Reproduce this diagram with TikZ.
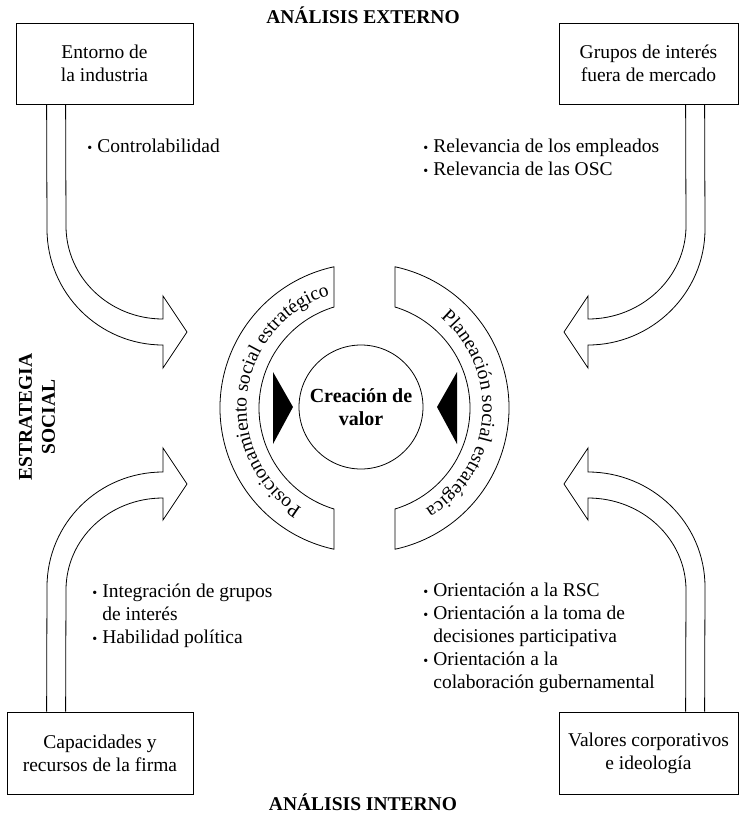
\documentclass[tikz,border=0pt]{standalone}
\usepackage{fontspec}
\setmainfont{Liberation Serif}
\usetikzlibrary{calc, decorations.text}

\newcommand{\itm}{\makebox[10pt][l]{\raisebox{0.8pt}{\scalebox{0.72}{\textbullet}}}}
\newcommand{\cont}{\hspace*{10pt}}
\newcommand{\bandfont}{\fontsize{19.5}{23}\selectfont}

\begin{document}
\begin{tikzpicture}[x=1pt, y=-1pt, line width=0.8pt]
        \tikzstyle{box} = [rectangle, draw=black, align=center, inner sep=0pt, font=\fontsize{19.5}{23}\selectfont]
        \tikzstyle{title} = [anchor=base, inner sep=0pt, font=\bfseries\fontsize{19.5}{23}\selectfont]
        \tikzstyle{list} = [anchor=north west, align=left, inner sep=0pt, font=\fontsize{19.5}{23}\selectfont]
        \tikzstyle{bigarrow} = [draw=black, line join=miter]
        \tikzstyle{band} = [draw=black]

        \useasboundingbox (0,0) rectangle (739,815);

        % titulos
        \node (ext) [title] at (363,23) {ANÁLISIS EXTERNO};
        \node (int) [title] at (363,810) {ANÁLISIS INTERNO};
        \node (estr) [title, anchor=center, rotate=90, align=center] at (37,417) {ESTRATEGIA\\SOCIAL};

        % cajas
        \node (ent) [box, minimum width=177pt, minimum height=81pt] at (104.5,63.5) {Entorno de\\la industria};
        \node (grp) [box, minimum width=179pt, minimum height=81pt] at (648.5,63.5) {Grupos de interés\\fuera de mercado};
        \node (cap) [box, minimum width=186pt, minimum height=82pt] at (100,753) {Capacidades y\\recursos de la firma};
        \node (val) [box, minimum width=179pt, minimum height=82pt] at (648.5,753) {Valores corporativos\\e ideología};

        % flechas
        \draw [bigarrow] ($(ent.south west)+(31,0)$) -- (47,229) .. controls (47,293) and (99,345) .. (163,345)
                -- (163,368) -- (187,332) -- (163,296) -- (163,319)
                .. controls (109,319) and (66,277) .. (66,226) -- ($(ent.south west)+(50,0)$);
        \draw [bigarrow] ($(grp.south west)+(146,0)$) -- (705,229) .. controls (705,293) and (652,345) .. (588,345)
                -- (588,368) -- (564,332) -- (588,296) -- (588,319)
                .. controls (642,319) and (686,277) .. (686,226) -- ($(grp.south west)+(127,0)$);
        \draw [bigarrow] ($(cap.north west)+(40,0)$) -- (47,587) .. controls (47,523) and (99,472) .. (163,472)
                -- (163,448) -- (187,484) -- (163,520) -- (163,498)
                .. controls (109,498) and (66,539) .. (66,590) -- ($(cap.north west)+(59,0)$);
        \draw [bigarrow] ($(val.north west)+(146,0)$) -- (705,587) .. controls (705,523) and (652,472) .. (588,472)
                -- (588,448) -- (564,484) -- (588,520) -- (588,498)
                .. controls (642,498) and (686,539) .. (686,590) -- ($(val.north west)+(127,0)$);

        % listas
        \node (ctrl) [list] at (87,136.4) {\strut\itm Controlabilidad};
        \node (relev) [list] at (423,136.4) {\strut\itm Relevancia de los empleados\\\itm Relevancia de las OSC};
        \node (integ) [list] at (92,581.4) {\strut\itm Integración de grupos\\\cont de interés\\\itm Habilidad política};
        \node (orient) [list] at (423,580.4) {\strut\itm Orientación a la RSC\\\itm Orientación a la toma de\\\cont decisiones participativa\\\itm Orientación a la\\\cont colaboración gubernamental};

        % centro
        \begin{scope}[shift={(364.5,408)}, y=1pt]
                \draw [band] (102.2:144.5) arc[start angle=102.2, end angle=257.8, radius=144.5]
                        -- (253.2:105.5) arc[start angle=253.2, end angle=106.8, radius=105.5] -- cycle;
                \draw [band] (77.8:144.5) arc[start angle=77.8, end angle=-77.8, radius=144.5]
                        -- (-73.2:105.5) arc[start angle=-73.2, end angle=73.2, radius=105.5] -- cycle;
                \path [decorate, decoration={text along path, text align=center,
                        text={|\bandfont|Posicionamiento social estratégico}}]
                        (245:118) arc[start angle=245, end angle=100, radius=118];
                \path [decorate, decoration={text along path, text align=center,
                        text={|\bandfont|Planeación social estratégica}}]
                        (70:118) arc[start angle=70, end angle=-79, radius=118];
        \end{scope}

        \node (valor) [circle, draw=black, minimum size=124pt, inner sep=0pt, align=center,
                font=\bfseries\fontsize{20}{23}\selectfont] at (361,407) {Creación de\\valor};
        \fill (273,372) -- (293,407) -- (273,444) -- cycle;
        \fill (457,372) -- (437,407) -- (457,444) -- cycle;
\end{tikzpicture}
\end{document}
